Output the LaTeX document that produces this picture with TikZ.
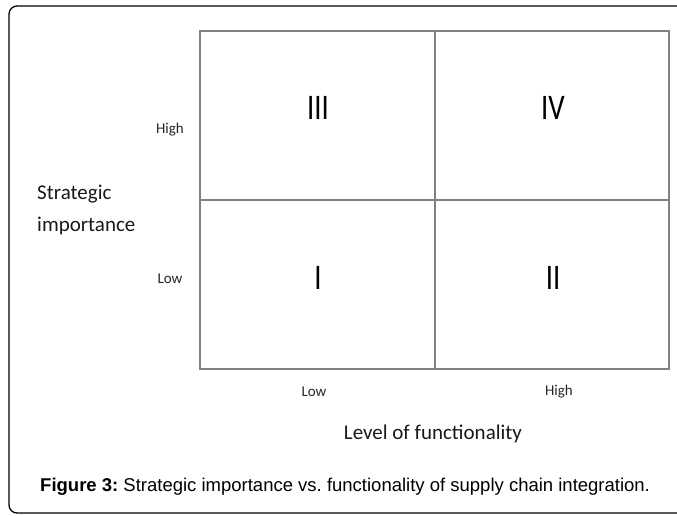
\documentclass[tikz,border=0pt]{standalone}
\usepackage{fontspec}
\setmainfont{Carlito}
\newfontfamily\capfont{Liberation Sans}
\frenchspacing
\begin{document}
\begin{tikzpicture}[x=1pt,y=-1pt,
  gridline/.style={draw=black!50,line width=1.6pt},
  axlab/.style={font=\fontsize{15}{18}\selectfont,text=black!85,inner sep=0pt},
  axtitle/.style={font=\fontsize{21}{32}\selectfont,text=black!90,inner sep=0pt},
  numeral/.style={font=\fontsize{36}{40}\selectfont,inner sep=0pt,xscale=0.8},
  frame/.style={draw=black,line width=1.3pt,rounded corners=8pt}]
\useasboundingbox (0,0) rectangle (677,516);
\clip (0,0) rectangle (677,516);
\draw[frame] (9,6) rectangle (700,513);
% grid
\coordinate (tl) at (200,31);
\coordinate (tr) at (669,31);
\coordinate (bl) at (200,369);
\coordinate (br) at (669,369);
\coordinate (mt) at (435,31);
\coordinate (mb) at (435,369);
\coordinate (ml) at (200,200);
\coordinate (mr) at (669,200);
\draw[gridline] (tl) rectangle (br);
\draw[gridline] (mt) -- (mb);
\draw[gridline] (ml) -- (mr);
% numerals
\node[numeral] (q3) at (318,108) {III};
\node[numeral] (q4) at (553,108) {IV};
\node[numeral] (q1) at (318,278) {I};
\node[numeral] (q2) at (553,278) {II};
% axis labels
\node[axlab] (yhigh) at (170,130) {High};
\node[axlab] (ylow) at (170,279) {Low};
\node[axlab] (xlow) at (314,392) {Low};
\node[axlab] (xhigh) at (559,392) {High};
\node[axtitle,align=left,anchor=west] (ytitle) at (37,210) {Strategic\\importance};
\node[axtitle] (xtitle) at (433,434) {Level of functionality};
% caption
\node[font=\capfont\fontsize{18.5}{20}\selectfont,inner sep=0pt,anchor=west] (cap) at (40,487) {\textbf{Figure 3:} Strategic importance vs. functionality of supply chain integration.};
\end{tikzpicture}
\end{document}
